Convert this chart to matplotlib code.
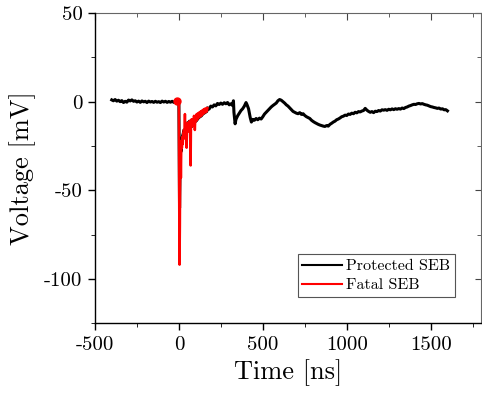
import matplotlib
matplotlib.use("Agg")
import matplotlib.pyplot as plt
from matplotlib.ticker import MultipleLocator

plt.rcParams["font.family"] = ["cmr10", "DejaVu Serif"]
plt.rcParams["axes.unicode_minus"] = False
plt.rcParams["mathtext.fontset"] = "cm"

# Protected SEB trace (time in ns, voltage in mV)
protected_t = [
    -400, -390, -380, -370, -360, -350, -340, -330, -320, -310, -300, -290, -280, -270,
    -260, -250, -240, -230, -220, -210, -200, -190, -180, -170, -160, -150, -140, -130,
    -120, -110, -100, -90, -80, -70, -60, -50, -40, -30, -20, -10,
    0, 4, 8, 10, 14, 16, 20, 26, 30, 38, 43, 50, 56, 63, 72, 78, 86, 94, 102, 110,
    118, 126, 134, 142, 150, 158, 166,
    170, 180, 190, 200, 210, 220, 230, 240, 250, 260, 270, 280, 290, 300, 310, 320,
    325, 328, 335, 340, 350, 360, 370, 380, 390, 400, 405, 415, 425, 432, 440, 450,
    460, 470, 480, 490, 500, 510, 520, 530, 540, 550, 560, 570, 580, 590, 600, 610,
    620, 630, 640, 650, 660, 670, 680, 690, 700, 710, 720, 730, 740, 750, 760, 770,
    780, 790, 800, 810, 820, 830, 840, 850, 860, 870, 880, 890, 900, 910, 920, 930,
    940, 950, 960, 970, 980, 990, 1000, 1010, 1020, 1030, 1040, 1050, 1060, 1070,
    1080, 1090, 1100, 1110, 1120, 1130, 1140, 1150, 1160, 1170, 1180, 1190, 1200,
    1210, 1220, 1230, 1240, 1250, 1260, 1270, 1280, 1290, 1300, 1310, 1320, 1330,
    1340, 1350, 1360, 1370, 1380, 1390, 1400, 1410, 1420, 1430, 1440, 1450, 1460,
    1470, 1480, 1490, 1500, 1510, 1520, 1530, 1540, 1550, 1560, 1570, 1580, 1590, 1600,
]
protected_v = [
    1.0, 0.5, 1.2, 0.3, 0.8, 0.0, 0.6, -0.5, 0.2, -0.3, 0.9, 0.4, 1.0, 0.2,
    0.5, -0.2, 0.3, -0.4, 0.4, -0.1, 0.2, -0.5, 0.3, -0.2, 0.1, -0.4, 0.2, -0.3,
    0.0, -0.5, 0.3, -0.2, 0.2, -0.4, 0.1, -0.3, 0.2, -0.4, 0.1, -0.2,
    0.0, -60.0, -30.0, -25.0, -28.0, -22.0, -20.0, -18.0, -16.0, -17.0, -14.0, -12.0, -13.0,
    -11.0, -13.0, -14.0, -12.0, -11.0, -11.0, -10.0,
    -9.0, -8.5, -8.0, -7.0, -6.5, -6.0, -5.5,
    -3.5, -4.2, -2.5, -3.0, -1.8, -2.4, -1.0, -1.6, -0.8, -1.5, -0.6, -1.2, -0.5, -1.8, -1.2, -2.2,
    0.5, -6.0, -12.5, -10.0, -8.0, -6.5, -5.0, -4.0, -2.5, -0.5, -1.5, -4.0, -9.0, -11.5, -10.0, -10.5,
    -9.5, -10.2, -9.3, -9.8, -8.5, -7.0, -6.0, -5.0, -4.0, -3.0, -2.2, -1.5, -0.8, 0.5, 1.2, 0.8,
    0.0, -0.8, -1.8, -2.5, -3.5, -4.5, -5.5, -6.0, -6.5, -6.8, -6.2, -7.2, -6.8, -7.8, -8.5, -9.0,
    -9.5, -10.5, -11.2, -11.8, -12.3, -12.8, -13.2, -13.5, -13.8, -14.0, -13.5, -13.8, -12.8, -12.2, -11.5, -11.0,
    -10.2, -9.8, -9.2, -8.5, -8.2, -7.6, -7.8, -7.0, -7.2, -6.5, -6.8, -6.0, -6.3, -5.6,
    -5.8, -5.3, -5.0, -3.8, -4.8, -5.5, -6.0, -5.6, -6.2, -5.4, -5.6, -5.0, -5.3,
    -4.6, -4.8, -4.5, -4.9, -4.3, -4.6, -4.1, -4.5, -4.0, -4.3, -3.9, -4.2, -3.6,
    -3.9, -3.3, -3.0, -2.5, -2.2, -1.8, -1.5, -1.6, -1.2, -1.0, -1.3, -1.1, -1.5,
    -1.8, -2.0, -2.4, -2.8, -3.0, -3.3, -3.5, -3.8, -3.6, -4.2, -4.0, -4.6, -4.5, -5.2,
]

# Fatal SEB trace (time in ns, voltage in mV)
fatal_t = [
    -14, -8, -3, 0, 2, 4, 6, 8, 10, 12, 14, 16, 18, 20, 23, 26, 28, 30, 33, 36, 38,
    40, 43, 46, 48, 50, 53, 56, 60, 63, 66, 70, 72, 75, 78, 82, 86, 90, 94, 95, 98,
    102, 106, 110, 114, 118, 122, 126, 130, 134, 138, 142, 146, 150, 154, 158, 162,
    166, 170,
]
fatal_v = [
    0.5, 0.3, 0.2, 0.0, -60.0, -92.0, -70.0, -30.0, -25.0, -43.0, -28.0, -22.0, -26.0, -20.0,
    -24.0, -18.0, -21.0, -16.0, -20.0, -7.0, -17.0,
    -20.0, -14.0, -26.0, -15.0, -12.0, -17.0, -13.0, -15.0, -11.0, -14.0, -36.0, -13.0, -10.0,
    -14.0, -10.0, -12.0, -8.0, -11.0, -16.0, -9.0,
    -11.0, -7.0, -10.0, -6.5, -9.0, -6.0, -8.5, -5.5, -8.0, -5.0, -7.0, -4.5, -6.5, -4.0,
    -6.0, -3.8, -5.5, -3.6,
]

fig = plt.figure(figsize=(4.82, 3.96), dpi=100)
ax = fig.add_axes([0.197, 0.184, 0.801, 0.783])

ax.plot(protected_t, protected_v, color="black", lw=2.2, label="Protected SEB", zorder=2)
ax.plot(fatal_t, fatal_v, color="red", lw=1.8, label="Fatal SEB", zorder=3)
# onset marker at the start of the fatal trace
ax.plot(fatal_t[:1], fatal_v[:1], "o", color="red", markersize=5, zorder=4)

ax.set_xlim(-500, 1800)
ax.set_ylim(-125, 50)
ax.xaxis.set_major_locator(MultipleLocator(500))
ax.xaxis.set_minor_locator(MultipleLocator(250))
ax.yaxis.set_major_locator(MultipleLocator(50))
ax.yaxis.set_minor_locator(MultipleLocator(25))

ax.tick_params(axis="both", which="major", labelsize=15, width=1.0)
ax.tick_params(axis="x", which="both", direction="out", top=False)
ax.tick_params(axis="y", which="both", direction="out", right=False)
ax.tick_params(axis="x", which="major", length=5, pad=4)
ax.tick_params(axis="x", which="minor", length=3)
ax.tick_params(axis="y", which="major", length=5, pad=4)
ax.tick_params(axis="y", which="minor", length=3)

# Mirrored inward ticks on the top and right spines
ax_r = ax.secondary_yaxis("right")
ax_r.yaxis.set_major_locator(MultipleLocator(50))
ax_r.yaxis.set_minor_locator(MultipleLocator(25))
ax_r.tick_params(which="both", direction="in", labelright=False, color="#444444")
ax_r.tick_params(which="major", length=4)
ax_r.tick_params(which="minor", length=3)
ax_r.spines["right"].set_color("#666666")
ax_r.spines["right"].set_linewidth(0.8)
ax_t = ax.secondary_xaxis("top")
ax_t.xaxis.set_major_locator(MultipleLocator(500))
ax_t.xaxis.set_minor_locator(MultipleLocator(250))
ax_t.tick_params(which="both", direction="in", labeltop=False, color="#444444")
ax_t.tick_params(which="major", length=5)
ax_t.tick_params(which="minor", length=3)
ax_t.spines["top"].set_color("#666666")
ax_t.spines["top"].set_linewidth(0.8)

ax.spines["left"].set_linewidth(1.0)
ax.spines["bottom"].set_linewidth(1.0)
ax.spines["top"].set_visible(False)
ax.spines["right"].set_visible(False)

ax.set_xlabel("Time [ns]", fontsize=19, labelpad=4)
ax.set_ylabel("Voltage [mV]", fontsize=19, labelpad=6)

leg = ax.legend(loc="lower right", bbox_to_anchor=(0.933, 0.084), fontsize=11.5,
                frameon=True, fancybox=False, edgecolor="#555555", framealpha=1,
                handlelength=2.45, handletextpad=0.3, borderpad=0.3, labelspacing=0.3,
                borderaxespad=0)
leg.get_frame().set_linewidth(0.8)
for line in leg.get_lines():
    line.set_linewidth(1.5)

fig.savefig("out.png", dpi=100)
